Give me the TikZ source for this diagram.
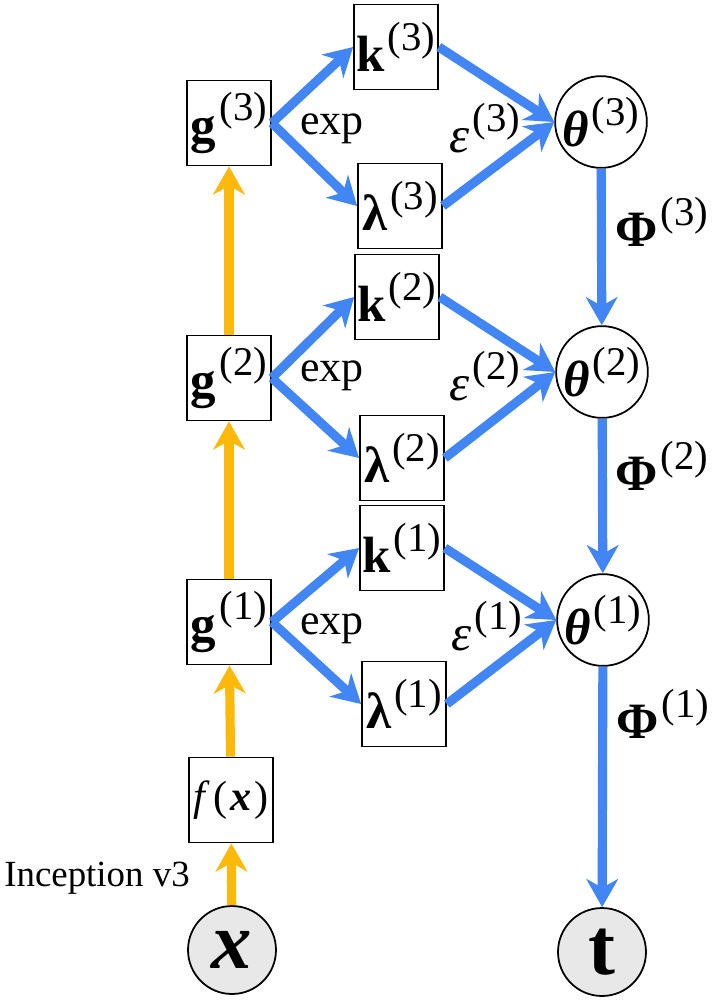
\documentclass[tikz,border=0pt]{standalone}
\usepackage{graphicx}
\usepackage{fontspec}
\setmainfont{Liberation Serif}
\usetikzlibrary{arrows.meta}
\definecolor{netblue}{RGB}{66,133,244}
\definecolor{netorange}{RGB}{252,185,10}
\definecolor{obsgray}{RGB}{232,232,232}
\newcommand{\lvl}[2]{#1\kern0.06em\raisebox{0.42em}{\scalebox{0.8}{(#2)}}}
\begin{document}
\begin{tikzpicture}[x=0.02cm,y=-0.02cm,
  box/.style={draw,line width=1pt,minimum width=1.68cm,minimum height=1.7cm,inner sep=0pt,font=\fontsize{29}{34}\selectfont},
  var/.style={draw,circle,line width=1pt,minimum size=1.76cm,inner sep=0pt,font=\fontsize{29}{34}\selectfont},
  obs/.style={var,fill=obsgray,font=\fontsize{46}{50}\selectfont},
  lab/.style={font=\fontsize{29}{34}\selectfont},
  bluearr/.style={draw=netblue,line width=5.2pt,-{Stealth[length=16pt,width=18pt,inset=5pt]}},
  orangearr/.style={draw=netorange,line width=5.2pt,-{Stealth[length=16pt,width=18pt,inset=5pt]}}]
\useasboundingbox (0,0) rectangle (719,1001);
% inputs and outputs
\node[obs] (x) at (232,950) {\textbf{\textit{x}}};
\node[obs] (t) at (602,952) {\textbf{t}};
\node[box,font=\fontsize{24}{28}\selectfont] (f) at (231,800) {\textit{f}\kern0.08em(\kern0.08em\textbf{\textit{x}}\kern0.08em)};
\node[font=\fontsize{21}{24}\selectfont] (inc) at (97,878) {Inception v3};
% level 3
\node[box] (g3) at (229,123) {\lvl{\textbf{g}}{3}};
\node[box] (k3) at (396,47) {\lvl{\textbf{k}}{3}};
\node[box] (l3) at (400,206) {\lvl{\textbf{λ}}{3}};
\node[var] (th3) at (601,122) {\lvl{\textbf{\textit{θ}}}{3}};
% level 2
\node[box] (g2) at (229,378) {\lvl{\textbf{g}}{2}};
\node[box] (k2) at (397,297) {\lvl{\textbf{k}}{2}};
\node[box] (l2) at (402,458) {\lvl{\textbf{λ}}{2}};
\node[var] (th2) at (602,372) {\lvl{\textbf{\textit{θ}}}{2}};
% level 1
\node[box] (g1) at (229,622) {\lvl{\textbf{g}}{1}};
\node[box] (k1) at (402,548) {\lvl{\textbf{k}}{1}};
\node[box] (l1) at (404,704) {\lvl{\textbf{λ}}{1}};
\node[var] (th1) at (603,620) {\lvl{\textbf{\textit{θ}}}{1}};
% labels
\node[font=\fontsize{25}{28}\selectfont] (e3) at (332,129) {exp};
\node[font=\fontsize{25}{28}\selectfont] (e2) at (332,376) {exp};
\node[font=\fontsize{25}{28}\selectfont] (e1) at (332,629) {exp};
\node[lab] (eps3) at (485,128) {\lvl{\textit{ε}}{3}};
\node[lab] (eps2) at (485,376) {\lvl{\textit{ε}}{2}};
\node[lab] (eps1) at (487,626) {\lvl{\textit{ε}}{1}};
\node[lab] (phi3) at (662,222) {\lvl{\textbf{Φ}}{3}};
\node[lab] (phi2) at (662,466) {\lvl{\textbf{Φ}}{2}};
\node[lab] (phi1) at (663,714) {\lvl{\textbf{Φ}}{1}};
% feature path
\draw[orangearr] (x) -- (f);
\draw[orangearr] (f) -- (g1);
\draw[orangearr] (g1) -- (g2);
\draw[orangearr] (g2) -- (g3);
% gating
\draw[bluearr] (g3.east) -- (k3.west);
\draw[bluearr] (g3.east) -- (l3.west);
\draw[bluearr] (k3.east) -- (th3.west);
\draw[bluearr] (l3.east) -- (th3.west);
\draw[bluearr] (g2.east) -- (k2.west);
\draw[bluearr] (g2.east) -- (l2.west);
\draw[bluearr] (k2.east) -- (th2.west);
\draw[bluearr] (l2.east) -- (th2.west);
\draw[bluearr] (g1.east) -- (k1.west);
\draw[bluearr] (g1.east) -- (l1.west);
\draw[bluearr] (k1.east) -- (th1.west);
\draw[bluearr] (l1.east) -- (th1.west);
\draw[bluearr] (th3) -- (th2);
\draw[bluearr] (th2) -- (th1);
\draw[bluearr] (th1) -- (t);
\end{tikzpicture}
\end{document}
